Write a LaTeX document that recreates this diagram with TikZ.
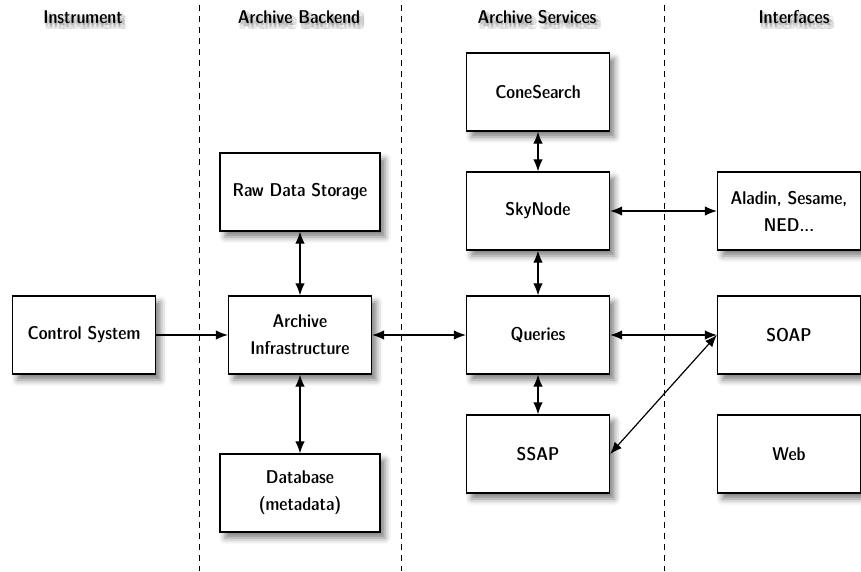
\documentclass[tikz,border=0pt]{standalone}
\usetikzlibrary{arrows.meta,shadows.blur}
\tikzset{
  every node/.style={font=\fontseries{sbc}\sffamily\fontsize{18.5}{27}\selectfont},
  box/.style={draw, line width=1.3pt, fill=white, minimum width=143pt, minimum height=78pt,
    align=center, inner sep=4pt,
    blur shadow={shadow xshift=5pt, shadow yshift=-6pt, shadow blur radius=6pt, shadow opacity=50}},
  wbox/.style={box, minimum width=160pt},
  tip/.tip={Latex[length=12pt,width=9.5pt]},
  link/.style={line width=1.2pt, tip-tip},
  onelink/.style={line width=1.2pt, -tip},
  sep/.style={line width=1pt, dash pattern=on 6pt off 5pt},
  hdr/.style={text=black},
  hdrsh/.style={text=black, text opacity=0.08},
}
\begin{document}
\begin{tikzpicture}[x=1pt,y=-1pt]
\useasboundingbox (0,0) rectangle (861,571);
% separators
\draw[sep] (199,5) -- (199,571);
\draw[sep] (401,5) -- (401,571);
\draw[sep] (664,5) -- (664,571);
% headers with soft text shadows
\foreach \t/\x [count=\i] in {Instrument/83, Archive Backend/299, Archive Services/537, Interfaces/794} {
  \foreach \a in {0,45,...,315} \node[hdrsh] at ([shift={(\a:2.5)}] \x+3,21) {\t};
  \node[hdr] (h\i) at (\x,17) {\t};
}
% nodes
\node[box] (cs) at (84,335) {Control System};
\node[box] (ai) at (300,335) {Archive\\Infrastructure};
\node[wbox] (raw) at (300,192) {Raw Data Storage};
\node[wbox] (db) at (300,493) {Database\\(metadata)};
\node[box] (cone) at (538,92) {ConeSearch};
\node[box] (sky) at (538,211) {SkyNode};
\node[box] (q) at (538,335) {Queries};
\node[box] (ssap) at (538,454) {SSAP};
\node[box] (ala) at (789,211) {Aladin, Sesame,\\NED...};
\node[box] (soap) at (789,335) {SOAP};
\node[box] (web) at (789,454) {Web};
% connectors
\draw[onelink] (cs) -- (ai);
\draw[link] (ai) -- (q);
\draw[link] (raw) -- (ai);
\draw[link] (ai) -- (db);
\draw[link] (cone) -- (sky);
\draw[link] (sky) -- (q);
\draw[link] (q) -- (ssap);
\draw[link] (sky) -- (ala);
\draw[link] (q) -- (soap);
\draw[link] (ssap.east) -- (soap.west);
\end{tikzpicture}
\end{document}
